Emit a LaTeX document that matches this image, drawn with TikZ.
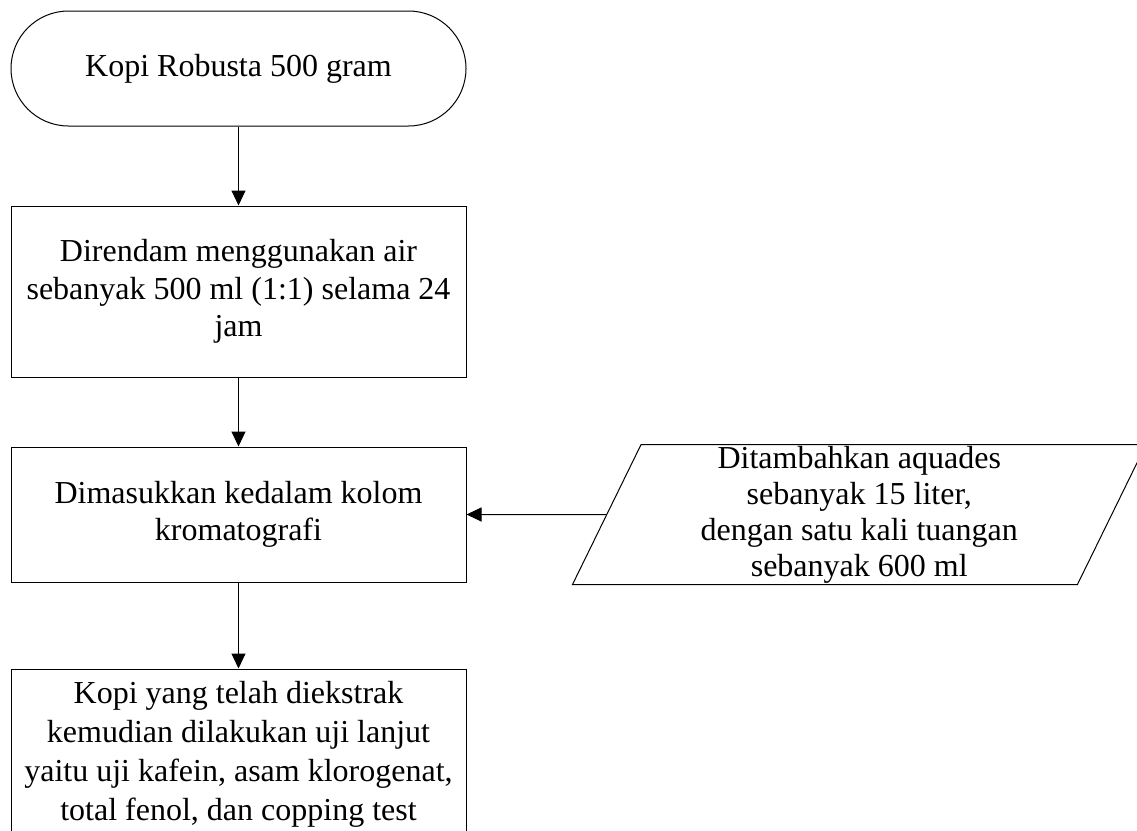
\documentclass[tikz,border=0pt]{standalone}
\usepackage{fontspec}
\setmainfont{Liberation Serif}
\usetikzlibrary{arrows.meta,shapes.geometric,shapes.misc}
\tikzset{
	flowbox/.style={draw, line width=1pt, rectangle, minimum width=455pt, align=center, inner sep=0pt, font=\fontsize{32}{37.5}\selectfont},
	startbox/.style={flowbox, rounded rectangle, minimum height=115pt},
	inputbox/.style={flowbox, trapezium, trapezium left angle=63.43, trapezium right angle=116.57, trapezium stretches body, minimum width=573.5pt, minimum height=140pt, font=\fontsize{32}{36}\selectfont},
	flowarrow/.style={line width=1pt, -{Triangle[width=14pt,length=15pt]}}
}

\begin{document}
\begin{tikzpicture}[x=1pt,y=-1pt]
	%%%%% START %%%%%
	
	\clip (0, 0) rectangle (1137, 830);
	\useasboundingbox (0, 0) rectangle (1137, 830);
	
	\node[startbox] (kopi) at (238.5, 68.5) {Kopi Robusta 500 gram};
	\node[flowbox, minimum height=171pt] (rendam) at (238.5, 291.5) {Direndam menggunakan air\\sebanyak 500 ml (1:1) selama 24\\jam};
	\node[flowbox, minimum height=135pt] (kolom) at (238.5, 514.5) {Dimasukkan kedalam kolom\\kromatografi};
	\node[flowbox, minimum height=171pt, font=\fontsize{32}{39}\selectfont] (uji) at (238.5, 754.5) {Kopi yang telah diekstrak\\kemudian dilakukan uji lanjut\\yaitu uji kafein, asam klorogenat,\\total fenol, dan copping test};
	
	\node[inputbox] (aquades) at (859.25, 514.5) {Ditambahkan aquades\\sebanyak 15 liter,\\dengan satu kali tuangan\\sebanyak 600 ml};
	
	\draw[flowarrow] (kopi) -- (rendam);
	\draw[flowarrow] (rendam) -- (kolom);
	\draw[flowarrow] (kolom) -- (uji);
	\draw[flowarrow] (aquades) -- (kolom);
	
	%%%%% END %%%%%
\end{tikzpicture}
\end{document}
